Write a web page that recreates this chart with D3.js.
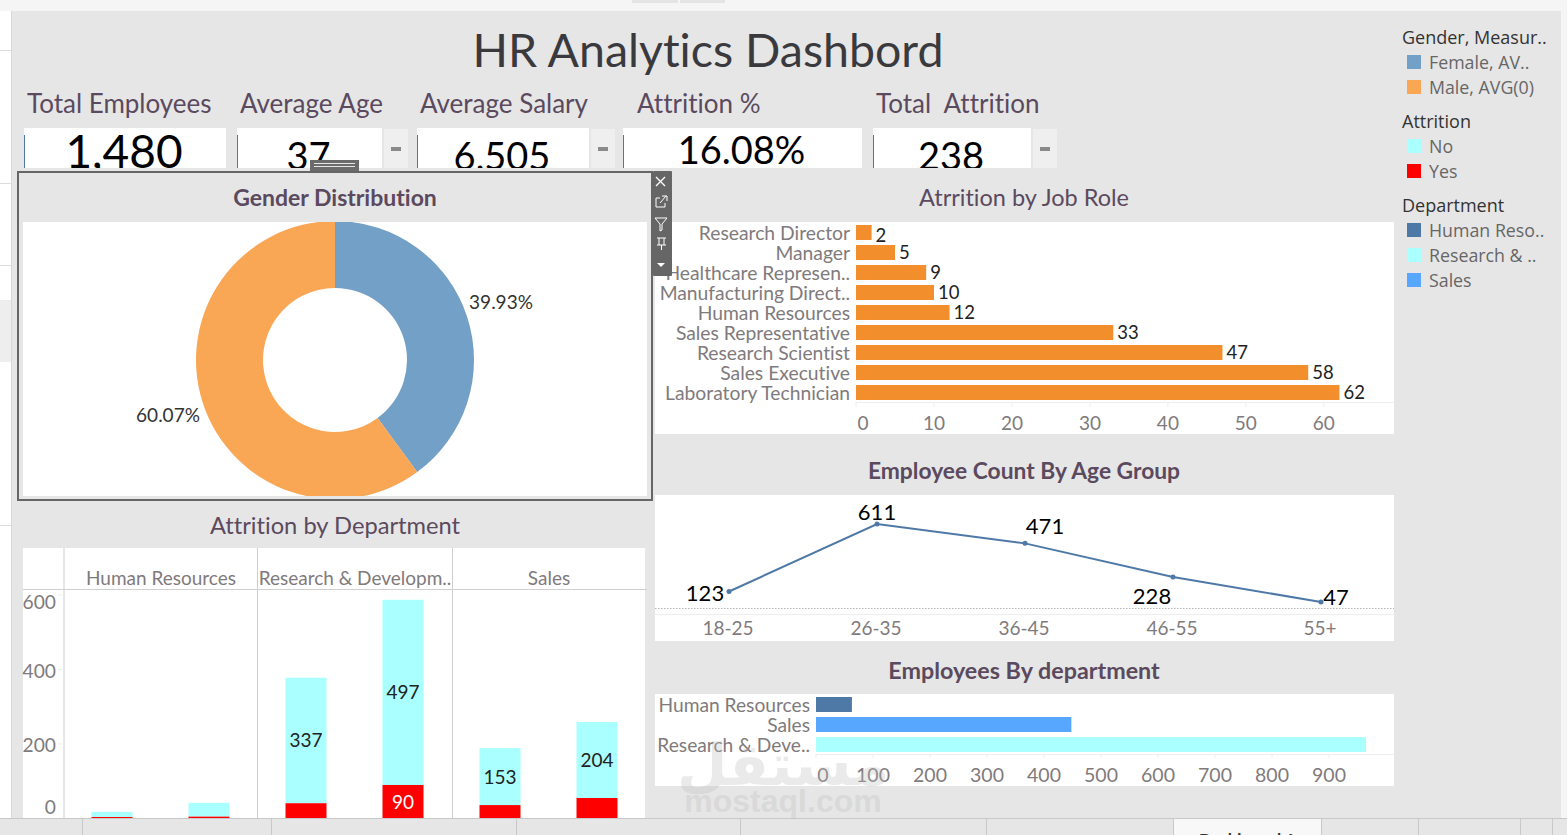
<!DOCTYPE html>
<html>
<head>
<meta charset="utf-8">
<title>HR Analytics Dashbord</title>
<script src="https://cdn.jsdelivr.net/npm/d3@7"></script>
<style>
  html, body { margin: 0; padding: 0; background: #f5f5f5; overflow: hidden; }
  svg { display: block; }
  text { font-family: "Lato", "Open Sans", sans-serif; font-variant-ligatures: none; }
</style>
</head>
<body>
<div id="chart"></div>
<script>
const kpiTitles = ["Total Employees", "Average Age", "Average Salary", "Attrition %", "Total  Attrition"];
const kpiValues = ["1,480", "37", "6,505", "16.08%", "238"];

const genders = ["Female", "Male"];
const genderShare = [39.93, 60.07];

const jobRoles = ["Research Director", "Manager", "Healthcare Represen..", "Manufacturing Direct..", "Human Resources",
  "Sales Representative", "Research Scientist", "Sales Executive", "Laboratory Technician"];
const jobAttrition = [2, 5, 9, 10, 12, 33, 47, 58, 62];
const jobTicks = [0, 10, 20, 30, 40, 50, 60];

const ageGroups = ["18-25", "26-35", "36-45", "46-55", "55+"];
const ageCounts = [123, 611, 471, 228, 47];

const deptNames = ["Human Resources", "Sales", "Research & Deve.."];
const deptCounts = [63, 448, 965];
const deptTicks = [0, 100, 200, 300, 400, 500, 600, 700, 800, 900];

const attrPanes = ["Human Resources", "Research & Developm..", "Sales"];
const attrGender = ["Female", "Male"];
const attrNo = [[14, 37], [337, 497], [153, 204]];
const attrYes = [[4, 5], [41, 90], [36, 55]];
const attrTicks = [0, 200, 400, 600];

const legendGender = ["Female, AV..", "Male, AVG(0)"];
const legendAttrition = ["No", "Yes"];
const legendDept = ["Human Reso..", "Research & ..", "Sales"];

const titleColor = "#5b4a5e";
const axisColor = "#7f7a7c";
const femaleColor = "#73a0c6";
const maleColor = "#f9a655";
const noColor = "#aaffff";
const yesColor = "#ff0000";
const orange = "#f28e2b";
const hrColor = "#4e79a7";
const salesColor = "#57a6ff";

const svg = d3.select("#chart").append("svg").attr("width", 1567).attr("height", 835);
const defs = svg.append("defs");

function rect(g, x, y, w, h, fill) {
  return g.append("rect").attr("x", x).attr("y", y).attr("width", w).attr("height", h).attr("fill", fill);
}
function label(g, x, y, str, size, fill, anchor) {
  return g.append("text").attr("x", x).attr("y", y).attr("dy", "0.37em")
    .attr("font-size", size).attr("fill", fill).attr("text-anchor", anchor || "middle").text(str);
}
function clip(id, x, y, w, h) {
  defs.append("clipPath").attr("id", id).append("rect").attr("x", x).attr("y", y).attr("width", w).attr("height", h);
}

// page background
rect(svg, 0, 0, 12, 835, "#ffffff");
[50, 183, 265, 525].forEach(y => rect(svg, 0, y, 11, 1, "#dddddd"));
rect(svg, 0, 300, 11, 62, "#eeeeee");
rect(svg, 11, 0, 1, 835, "#d8d8d8");
rect(svg, 0, 0, 1567, 11, "#f5f5f5");
rect(svg, 632, 0, 46, 3, "#e4e4e4");
rect(svg, 680, 0, 45, 3, "#e4e4e4");
rect(svg, 12, 11, 1549, 807, "#e6e6e6");

// header
label(svg, 708, 50, "HR Analytics Dashbord", 46.5, "#3a3a3e");
const kpiTitleX = [27, 240, 420, 637, 876];
const kpiBoxes = [[24, 202], [237, 145], [417, 172], [623, 239], [873, 158]];
const kpiSizes = [46, 38, 38, 38, 38];
const kpiBase = [151, 156, 156, 150, 156];
kpiTitles.forEach((t, i) => {
  label(svg, kpiTitleX[i], 103, t, 26, titleColor, "start").style("white-space", "pre");
  const b = kpiBoxes[i];
  rect(svg, b[0], 128, b[1], 40, "#ffffff");
  rect(svg, b[0], 135, 1, 33, hrColor);
  clip("kpi" + i, b[0], 128, b[1], 40);
  label(svg, b[0] + b[1] / 2 - 1, kpiBase[i], kpiValues[i], kpiSizes[i], "#000000")
    .attr("clip-path", `url(#kpi${i})`);
  if (i !== 0 && i !== 3) {
    rect(svg, b[0] + b[1] + 2, 129, 24, 39, "#efefef");
    rect(svg, b[0] + b[1] + 9, 147, 10, 4, "#8a8a8a");
  }
});

// gender donut in its selected frame
rect(svg, 18, 172, 634, 328, "#e6e6e6").attr("stroke", "#666666").attr("stroke-width", 2);
rect(svg, 310, 160, 49, 11, "#6b6b6b");
rect(svg, 314, 163, 41, 1, "#e6e6e6");
rect(svg, 314, 166, 41, 1, "#e6e6e6");
label(svg, 335, 197, "Gender Distribution", 23, titleColor).attr("font-weight", "700");
rect(svg, 23, 222, 624, 274, "#ffffff");
const pie = d3.pie().sort(null)(genderShare);
const arc = d3.arc().innerRadius(72).outerRadius(139);
const donut = svg.append("g").attr("transform", "translate(335,360)").attr("clip-path", "url(#donutClip)");
clip("donutClip", -312, -138, 624, 274);
donut.selectAll("path").data(pie).enter().append("path")
  .attr("d", arc)
  .attr("fill", (d, i) => i === 0 ? femaleColor : maleColor);
label(svg, 501, 302, genderShare[0].toFixed(2) + "%", 19, "#333333");
label(svg, 168, 415, genderShare[1].toFixed(2) + "%", 19, "#333333");

// attrition by department
label(svg, 335, 525, "Attrition by Department", 23.7, titleColor);
const attr = svg.append("g");
rect(attr, 23, 548, 624, 270, "#ffffff");
const paneX = d3.scaleBand().domain(attrPanes).range([64, 646]);
const attrY = d3.scaleLinear().domain([0, 600]).range([818.5, 595]);
const barX = d3.scaleBand().domain(attrGender).range([0, paneX.bandwidth()]);
attr.append("line").attr("x1", 23).attr("x2", 647).attr("y1", 589.5).attr("y2", 589.5).attr("stroke", "#d0d0d0");
[64, 257.5, 452.5, 646].forEach(x => {
  attr.append("line").attr("x1", x).attr("x2", x).attr("y1", 548).attr("y2", 818).attr("stroke", "#cfcfcf");
});
attrTicks.forEach(t => {
  attr.append("line").attr("x1", 58).attr("x2", 64).attr("y1", attrY(t)).attr("y2", attrY(t)).attr("stroke", "#eeeeee");
});
const attrTickY = { 0: 807, 200: 745, 400: 671, 600: 602 };
attrTicks.forEach(t => label(attr, 56, attrTickY[t], t, 19.2, axisColor, "end"));
attrPanes.forEach((p, i) => {
  const px = paneX(p);
  label(attr, px + paneX.bandwidth() / 2, 578, p, 19, axisColor);
  attrGender.forEach((g, j) => {
    const cx = px + barX(g) + barX.bandwidth() / 2 - 0.5;
    const no = attrNo[i][j], yes = attrYes[i][j];
    rect(attr, cx - 20.5, attrY(yes + no), 41, attrY(yes) - attrY(yes + no), noColor);
    rect(attr, cx - 20.5, attrY(yes), 41, attrY(0) - attrY(yes), yesColor);
    if (no > 100) label(attr, cx, attrY(yes + no / 2), no, 19, "#222222");
    if (yes >= 90) label(attr, cx, attrY(yes / 2), yes, 19, "#ffffff");
  });
});

// attrition by job role
label(svg, 1024, 197, "Atrrition by Job Role", 23.5, titleColor);
const job = svg.append("g");
rect(job, 655, 222, 739, 212, "#ffffff");
const jobX = d3.scaleLinear().domain([0, 69]).range([856, 1394]);
const jobY = d3.scaleBand().domain(jobRoles).range([222.500, 402.500]).paddingInner(0.25).paddingOuter(0.125);
job.selectAll("rect.bar").data(jobRoles).enter().append("rect").attr("class", "bar")
  .attr("x", jobX(0)).attr("y", d => jobY(d))
  .attr("width", (d, i) => jobX(jobAttrition[i]) - jobX(0))
  .attr("height", jobY.bandwidth()).attr("fill", orange);
jobRoles.forEach((r, i) => {
  const cy = jobY(r) + jobY.bandwidth() / 2;
  label(job, 850, cy, r, 19.3, axisColor, "end");
  label(job, jobX(jobAttrition[i]) + 4, cy + (i === 0 ? 3 : 0), jobAttrition[i], 18.5, "#222222", "start");
});
job.append("line").attr("x1", 856).attr("x2", 1394).attr("y1", 402.5).attr("y2", 402.5).attr("stroke", "#eeeeee");
jobTicks.forEach(t => {
  job.append("line").attr("x1", jobX(t)).attr("x2", jobX(t)).attr("y1", 402).attr("y2", 407).attr("stroke", "#eeeeee");
  label(job, t === 0 ? jobX(t) + 7 : jobX(t), 423, t, 19, axisColor);
});

// employee count by age group
label(svg, 1024, 471, "Employee Count By Age Group", 22.8, titleColor).attr("font-weight", "700");
const age = svg.append("g");
rect(age, 655, 495, 739, 146, "#ffffff");
const ageX = d3.scalePoint().domain(ageGroups).range([729, 1321]);
const ageY = d3.scaleLinear().domain([0, 611]).range([608.5, 524]);
age.append("line").attr("x1", 655).attr("x2", 1394).attr("y1", 608.5).attr("y2", 608.5)
  .attr("stroke", "#b5b5b5").attr("stroke-dasharray", "1.500 1.500");
age.append("line").attr("x1", 655).attr("x2", 1394).attr("y1", 614.5).attr("y2", 614.5).attr("stroke", "#eeeeee");
const ageLine = d3.line().x((d, i) => ageX(ageGroups[i])).y(d => ageY(d));
age.append("path").datum(ageCounts).attr("d", ageLine).attr("fill", "none").attr("stroke", hrColor).attr("stroke-width", 2);
age.selectAll("circle").data(ageCounts).enter().append("circle")
  .attr("cx", (d, i) => ageX(ageGroups[i])).attr("cy", d => ageY(d)).attr("r", 2.5).attr("fill", hrColor);
const ageLabelDx = [-24, 0, 20, -21, 15];
const ageLabelDy = [1, -12, -18, 19, -5];
ageGroups.forEach((g, i) => {
  label(age, ageX(g) + ageLabelDx[i], ageY(ageCounts[i]) + ageLabelDy[i], ageCounts[i], 22, "#000000");
  label(age, ageX(g) - 1, 628, g, 19, axisColor);
});

// employees by department
label(svg, 1024, 670, "Employees By department", 23.3, titleColor).attr("font-weight", "700");
const dept = svg.append("g");
rect(dept, 655, 694, 739, 92, "#ffffff");
const deptX = d3.scaleLinear().domain([0, 900]).range([816, 1329]);
const deptY = d3.scaleBand().domain(deptNames).range([694.5, 754.5]).paddingInner(0.25).paddingOuter(0.125);
const deptColors = [hrColor, salesColor, noColor];
dept.selectAll("rect.bar").data(deptNames).enter().append("rect").attr("class", "bar")
  .attr("x", deptX(0)).attr("y", d => deptY(d))
  .attr("width", (d, i) => deptX(deptCounts[i]) - deptX(0))
  .attr("height", deptY.bandwidth()).attr("fill", (d, i) => deptColors[i]);
deptNames.forEach(n => label(dept, 810, deptY(n) + deptY.bandwidth() / 2, n, 19.2, axisColor, "end"));
dept.append("line").attr("x1", 816).attr("x2", 1394).attr("y1", 754.5).attr("y2", 754.5).attr("stroke", "#eeeeee");
deptTicks.forEach(t => {
  dept.append("line").attr("x1", deptX(t)).attr("x2", deptX(t)).attr("y1", 754).attr("y2", 758).attr("stroke", "#eeeeee");
  label(dept, t === 0 ? deptX(t) + 7 : deptX(t), 775, t, 19.5, axisColor);
});

// legends
function legend(title, items, colors, y) {
  label(svg, 1402, y, title, 18, "#333333", "start").style("font-family", "'Open Sans'");
  items.forEach((t, i) => {
    const ry = y + 25 * (i + 1);
    rect(svg, 1407, ry - 7, 14, 14, colors[i]);
    label(svg, 1429, ry, t, 17.8, "#666666", "start").style("font-family", "'Open Sans'");
  });
}
legend("Gender, Measur..", legendGender, [femaleColor, maleColor], 37);
legend("Attrition", legendAttrition, [noColor, yesColor], 121);
legend("Department", legendDept, [hrColor, noColor, salesColor], 205);

// floating toolbar, sits over the job role chart
const tools = svg.append("g");
rect(tools, 653, 171, 19, 105, "#666666").attr("rx", 1);
tools.append("path").attr("d", "M656 177l9 9M665 177l-9 9").attr("stroke", "#fff").attr("stroke-width", 1.4).attr("fill", "none");
tools.append("path").attr("d", "M660 198h-4v9h9v-4M660 203l6-7M662 196h5v5").attr("stroke", "#fff").attr("fill", "none");
tools.append("path").attr("d", "M655 218h12l-5 6v6l-2 1v-7z").attr("stroke", "#fff").attr("fill", "none");
tools.append("path").attr("d", "M657 238h9M657 245h9M659 238v7M664 238v7M661.500 245v5").attr("stroke", "#fff").attr("fill", "none");
tools.append("path").attr("d", "M657 263h8l-4 4z").attr("fill", "#fff");

// tab strip
rect(svg, 0, 818, 1567, 17, "#e6e6e6");
rect(svg, 1173, 819, 148, 16, "#f8f8f8");
rect(svg, 0, 818, 1567, 1, "#c8c8c8");
[82, 271, 516, 740, 986, 1173, 1321, 1418, 1520, 1552].forEach(x => rect(svg, x, 818, 1, 17, "#c8c8c8"));
clip("tabClip", 1173, 819, 148, 16);
label(svg, 1247, 840, "Dashboard 1", 17, "#333333").attr("font-weight", "700").attr("clip-path", "url(#tabClip)");

// watermark
const mark = svg.append("g").attr("fill", "#bdbdbd").attr("opacity", 0.3).attr("font-weight", "700");
mark.append("text").attr("x", 783).attr("y", 785).attr("text-anchor", "middle")
  .attr("font-size", 58).style("font-family", "'DejaVu Sans'").text("مستقل");
mark.append("text").attr("x", 783).attr("y", 812).attr("text-anchor", "middle")
  .attr("font-size", 32).style("font-family", "'Liberation Sans'").text("mostaql.com");
</script>
</body>
</html>
